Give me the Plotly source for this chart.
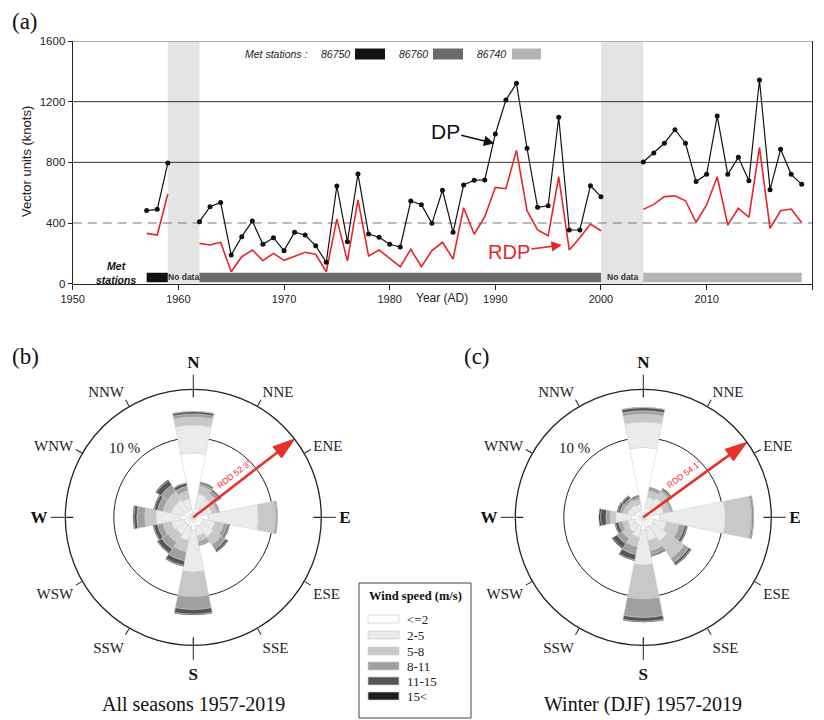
import plotly.graph_objects as go

OFF = 8  # page body margin of the browser
W, H = 824 - OFF, 720 - OFF
def fx(p): return (p - OFF) / W
def fy(p): return 1 - (p - OFF) / H

# ---------------- (a) DP / RDP time series ----------------
years = list(range(1957, 2020))
dp = [482, 490, 795, None, None,
      409, 508, 536, 189, 310, 413, 260, 303, 218, 339, 321, 250, 141, 644, 277, 723, 328, 306, 260, 242,
      545, 521, 398, 616, 339, 651, 682, 684, 987, 1211, 1321, 893, 504, 514, 1097, 354, 354, 646, 574,
      None, None, None,
      802, 862, 926, 1015, 926, 673, 721, 1105, 721, 833, 679, 1343, 620, 886, 721, 655]
rdp = [332, 321, 591, None, None,
       266, 255, 273, 79, 178, 222, 152, 200, 154, 183, 207, 194, 79, 426, 150, 552, 183, 222, 167, 112,
       227, 112, 218, 273, 163, 501, 326, 442, 635, 626, 879, 481, 354, 316, 705, 222, 303, 393, 349,
       None, None, None,
       490, 523, 574, 580, 547, 405, 519, 705, 387, 497, 438, 899, 365, 481, 492, 402]

station_ids = ["86750", "86760", "86740"]
station_start = [1957, 1962, 2004]
station_end = [1959, 2000, 2019]
station_colors = ["#111111", "#6a6a6a", "#b4b4b4"]
nodata_start = [1959, 2000]
nodata_end = [1962, 2004]
x_ticks = [1950, 1960, 1970, 1980, 1990, 2000, 2010, 2020]
y_ticks = [0, 400, 800, 1200, 1600]
threshold_dashed = 400
solid_levels = [800, 1200]

# ---------------- (b)/(c) wind roses ----------------
dir_angles = [i * 22.5 for i in range(16)]  # N, NNE, NE, ... NNW
speed_classes = ["<=2", "2-5", "5-8", "8-11", "11-15", "15<"]
speed_colors = ["#ffffff", "#ebebeb", "#c8c8c8", "#a0a0a0", "#555555", "#1e1e1e"]

all_le2 = [8.1, 1.2, 1.2, 1.3, 1.9, 1.3, 1.3, 1.2, 1.6, 1.2, 1.1, 1.2, 1.6, 1.2, 1.1, 1.0]
all_2_5 = [3.5, 1.8, 1.6, 1.1, 6.3, 1.5, 1.7, 1.2, 5.3, 1.8, 1.5, 1.6, 3.1, 1.6, 1.6, 1.4]
all_5_8 = [1.0, 1.0, 0.8, 0.6, 2.1, 1.1, 1.2, 0.7, 3.1, 1.4, 1.2, 1.1, 1.4, 1.1, 1.2, 1.0]
all_8_11 = [0.4, 0.3, 0.4, 0.2, 0.15, 0.5, 0.7, 0.4, 1.6, 1.2, 1.0, 0.7, 1.0, 0.7, 1.0, 0.6]
all_11_15 = [0.3, 0.2, 0.2, 0.1, 0.1, 0.2, 0.3, 0.1, 0.6, 0.6, 0.6, 0.5, 0.4, 0.4, 0.7, 0.4]
all_15 = [0.05, 0.05, 0.05, 0.05, 0.05, 0.1, 0.1, 0.05, 0.1, 0.1, 0.1, 0.1, 0.1, 0.1, 0.1, 0.05]

win_le2 = [8.8, 1.2, 1.3, 1.3, 2.1, 1.4, 1.4, 1.3, 1.6, 1.2, 1.1, 1.1, 1.5, 1.1, 1.0, 0.9]
win_2_5 = [3.2, 1.4, 1.6, 1.3, 8.2, 1.6, 2.2, 1.7, 4.4, 1.4, 1.1, 0.9, 2.0, 0.9, 0.9, 0.8]
win_5_8 = [0.95, 0.8, 1.0, 0.8, 3.2, 1.6, 2.6, 1.3, 4.25, 1.2, 1.0, 0.7, 0.7, 0.6, 0.6, 0.6]
win_8_11 = [0.45, 0.3, 0.3, 0.2, 0.2, 0.7, 0.7, 0.5, 2.35, 1.0, 0.8, 0.5, 0.5, 0.4, 0.4, 0.3]
win_11_15 = [0.4, 0.15, 0.2, 0.1, 0.15, 0.3, 0.3, 0.2, 0.5, 0.7, 0.6, 0.4, 0.7, 0.3, 0.3, 0.2]
win_15 = [0.05, 0.05, 0.05, 0.05, 0.05, 0.1, 0.1, 0.05, 0.1, 0.1, 0.15, 0.1, 0.2, 0.1, 0.1, 0.05]

rdd_all = 52.3
rdd_winter = 54.1
rose_max = 16.1
rose_ring = 10
minor_angles = [30, 60, 120, 150, 210, 240, 300, 330]
minor_labels = ["NNE", "ENE", "ESE", "SSE", "SSW", "WSW", "WNW", "NNW"]
major_angles = [0, 90, 180, 270]
major_labels = ["N", "E", "S", "W"]

SANS = "Liberation Sans"
SERIF = "Liberation Serif"
RED = "#e8262a"
ARROW_RED = "#e5322a"

fig = go.Figure()

# time series traces
fig.add_trace(go.Bar(y=[41] * 3, x=[e - s for s, e in zip(station_start, station_end)], base=station_start,
                     orientation="h", width=62, marker=dict(color=station_colors, line=dict(width=0)),
                     showlegend=False, hoverinfo="skip", xaxis="x", yaxis="y"))
fig.add_trace(go.Scatter(x=years, y=rdp, mode="lines", line=dict(color=RED, width=1.6),
                         connectgaps=False, showlegend=False, xaxis="x", yaxis="y"))
fig.add_trace(go.Scatter(x=years, y=dp, mode="lines+markers", line=dict(color="#111111", width=1.2),
                         marker=dict(color="#111111", size=5), connectgaps=False, showlegend=False,
                         xaxis="x", yaxis="y"))

# wind roses
rose_sets = [
    ("polar", [all_le2, all_2_5, all_5_8, all_8_11, all_11_15, all_15], rdd_all),
    ("polar2", [win_le2, win_2_5, win_5_8, win_8_11, win_11_15, win_15], rdd_winter),
]
for sub, classes, rdd in rose_sets:
    for name, vals, col in zip(speed_classes, classes, speed_colors):
        fig.add_trace(go.Barpolar(r=vals, theta=dir_angles, width=[22.5] * 16, name=name,
                                  marker=dict(color=col, line=dict(color="#cfcfcf", width=0.5)),
                                  subplot=sub, showlegend=False, hoverinfo="skip"))
    fig.add_trace(go.Scatterpolar(r=[0, rose_max], theta=[rdd, rdd], mode="lines+markers",
                                  line=dict(color=ARROW_RED, width=2.6),
                                  marker=dict(symbol=["circle", "arrow"], size=[0, 23], color=ARROW_RED,
                                              opacity=1, angleref="previous",
                                              line=dict(color=ARROW_RED, width=1)),
                                  subplot=sub, showlegend=False, hoverinfo="skip"))

# cardinal tick crossing segments on overlay polars
for sub in ["polar3", "polar4"]:
    rr, tt = [], []
    for a in major_angles:
        rr += [rose_max - 1.0, rose_max, None]
        tt += [a, a, None]
    fig.add_trace(go.Scatterpolar(r=rr, theta=tt, mode="lines", line=dict(color="#222", width=1.2),
                                  subplot=sub, showlegend=False, hoverinfo="skip", cliponaxis=False))

def polar_layout(cx, cy, R):
    return dict(
        domain=dict(x=[fx(cx - R), fx(cx + R)], y=[fy(cy + R), fy(cy - R)]),
        bgcolor="white", barmode="stack", bargap=0,
        angularaxis=dict(rotation=90, direction="clockwise", tickmode="array", tickvals=minor_angles,
                         ticktext=minor_labels, ticks="outside", ticklen=7, tickwidth=1, tickcolor="#222",
                         showline=True, linecolor="#222", linewidth=1.3, showgrid=False,
                         tickfont=dict(family=SERIF, size=15, color="#222")),
        radialaxis=dict(range=[0, rose_max], tickmode="array", tickvals=[rose_ring], showgrid=True,
                        gridcolor="#222", gridwidth=1.3, showline=False, showticklabels=False, ticks=""),
    )

def overlay_layout(cx, cy, R):
    return dict(
        domain=dict(x=[fx(cx - R), fx(cx + R)], y=[fy(cy + R), fy(cy - R)]),
        bgcolor="rgba(0,0,0,0)",
        angularaxis=dict(rotation=90, direction="clockwise", tickmode="array", tickvals=major_angles,
                         ticktext=["<b>%s</b>" % s for s in major_labels], ticks="outside", ticklen=14,
                         tickwidth=1.2, tickcolor="#222", showline=False, showgrid=False,
                         tickfont=dict(family=SERIF, size=17, color="#111")),
        radialaxis=dict(range=[0, rose_max], visible=False),
    )

R = 128
cb = (193.3, 517.3)
cc = (643.3, 517.3)

def ann(x, y, text, size, family=SANS, color="#222", xanchor="center", **kw):
    d = dict(x=fx(x), y=fy(y), xref="paper", yref="paper", text=text, showarrow=False,
             xanchor=xanchor, yanchor="middle", font=dict(family=family, size=size, color=color))
    d.update(kw)
    return d

shapes = []
for s, e in zip(nodata_start, nodata_end):
    shapes.append(dict(type="rect", xref="x", yref="y", x0=s, x1=e, y0=0, y1=1600,
                       fillcolor="#e4e4e4", line=dict(width=0), layer="below"))
shapes.append(dict(type="line", xref="x", yref="y", x0=1950, x1=2020, y0=threshold_dashed, y1=threshold_dashed,
                   line=dict(color="#777", width=1.1, dash="9px,6px"), layer="below"))
for lv in solid_levels:
    shapes.append(dict(type="line", xref="x", yref="y", x0=1950, x1=2020, y0=lv, y1=lv,
                       line=dict(color="#333", width=1), layer="below"))
shapes.append(dict(type="line", xref="x", yref="y", x0=1950, x1=2020, y0=1600, y1=1600,
                   line=dict(color="#999", width=1.3), layer="above"))

annotations = []
# station legend at top
legend_text_x = [319, 397, 475]
legend_sw_x = [(355, 385), (433, 463), (512, 541)]
annotations.append(ann(243, 54, "<i>Met stations :</i>", 10.5, xanchor="left"))
for sid, tx, (x0, x1), col in zip(station_ids, legend_text_x, legend_sw_x, station_colors):
    annotations.append(ann(tx, 54, "<i>%s</i>" % sid, 10.5, xanchor="left"))
    shapes.append(dict(type="rect", xref="paper", yref="paper", x0=fx(x0), x1=fx(x1), y0=fy(59.5), y1=fy(48.5),
                       fillcolor=col, line=dict(width=0)))
for s, e in zip(nodata_start, nodata_end):
    annotations.append(dict(x=(s + e) / 2, y=41, xref="x", yref="y", text="<b>No data</b>", showarrow=False,
                            xanchor="center", yanchor="middle", font=dict(family=SANS, size=8.5, color="#333")))
annotations.append(ann(116, 272.5, "<b><i>Met<br>stations</i></b>", 10.5, color="#111", align="center"))
annotations.append(dict(x=1989.9, y=925, xref="x", yref="y", ax=-49, ay=-12, text="DP", showarrow=True,
                        arrowhead=2, arrowsize=1.3, arrowwidth=1.6, arrowcolor="#111",
                        font=dict(family=SANS, size=21, color="#111")))
annotations.append(dict(x=1996.3, y=255, xref="x", yref="y", ax=-53, ay=7, text="RDP", showarrow=True,
                        arrowhead=2, arrowsize=1.3, arrowwidth=1.6, arrowcolor=RED,
                        font=dict(family=SANS, size=20, color=RED)))
annotations.append(ann(26, 162, "Vector units (knots)", 13, textangle=-90))
annotations.append(ann(442, 298, "Year (AD)", 12))
# panel letters
for t, x, y in [("(a)", 10, 22), ("(b)", 10, 356), ("(c)", 462, 356)]:
    annotations.append(ann(x, y, t, 23, family=SERIF, color="#111", xanchor="left"))
# rose texts
for (cx, cy), rdd, cap in [(cb, rdd_all, "All seasons 1957-2019"), (cc, rdd_winter, "Winter (DJF) 1957-2019")]:
    annotations.append(ann(cx - 69, cy - 69, "10 %", 15, family=SERIF))
    annotations.append(ann(cx + 41, cy - 43, "RDD %.1f°" % rdd, 8.5, color=RED, textangle=-(90 - rdd)))
    annotations.append(ann(cx, 704, cap, 20, family=SERIF, color="#111"))

# wind speed legend box
shapes.append(dict(type="rect", xref="paper", yref="paper", x0=fx(359), x1=fx(471), y0=fy(718), y1=fy(583),
                   line=dict(color="#444", width=1), fillcolor="white"))
annotations.append(ann(415, 596, "<b>Wind speed (m/s)</b>", 12.5, family=SERIF, color="#111"))
leg_y = [619, 635, 651, 666, 681, 696]
for lab, col, yy in zip(speed_classes, speed_colors, leg_y):
    shapes.append(dict(type="rect", xref="paper", yref="paper", x0=fx(368), x1=fx(399), y0=fy(yy + 4), y1=fy(yy - 4),
                       fillcolor=col, line=dict(color="#cfcfcf", width=0.7)))
    annotations.append(ann(405, yy, lab.replace("<", "&lt;"), 13, family=SERIF, xanchor="left"))

fig.update_layout(
    width=W, height=H, margin=dict(l=0, r=0, t=0, b=0),
    paper_bgcolor="white", plot_bgcolor="white", showlegend=False,
    xaxis=dict(domain=[fx(72.7), fx(812.3)], range=[1950, 2020], tickmode="array", tickvals=x_ticks,
               ticks="outside", ticklen=5, tickcolor="#222", showline=True, linecolor="#222", linewidth=1.2,
               showgrid=False, zeroline=False, tickfont=dict(family=SANS, size=11, color="#222"),
               anchor="y", automargin=False),
    yaxis=dict(domain=[fy(283.7), fy(41)], range=[0, 1600], tickmode="array", tickvals=y_ticks,
               ticks="outside", ticklen=4, tickcolor="#222", showline=True, linecolor="#222", linewidth=1.2,
               mirror=True, showgrid=False, zeroline=False, tickfont=dict(family=SANS, size=11.5, color="#222"),
               anchor="x", automargin=False),
    polar=polar_layout(cb[0], cb[1], R),
    polar2=polar_layout(cc[0], cc[1], R),
    polar3=overlay_layout(cb[0], cb[1], R),
    polar4=overlay_layout(cc[0], cc[1], R),
    shapes=shapes,
    annotations=annotations,
)

fig.write_html("out.html")
